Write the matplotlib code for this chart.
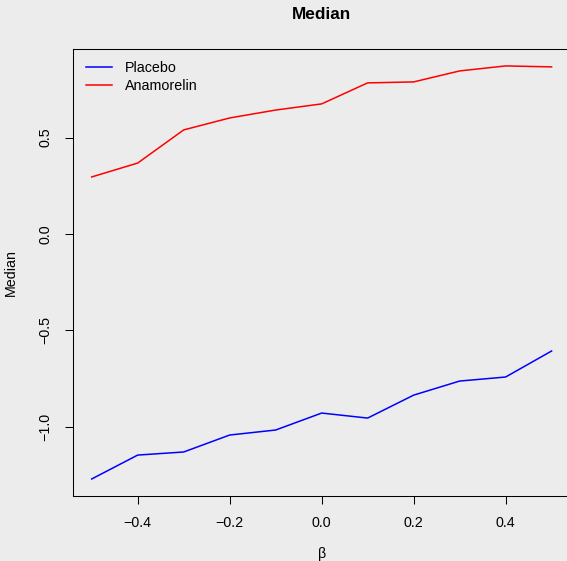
import numpy as np
import matplotlib
matplotlib.use('Agg')
from matplotlib import pyplot as plt

plt.rcParams['font.family'] = ['Liberation Sans', 'DejaVu Sans']

beta = [-0.5, -0.4, -0.3, -0.2, -0.1, 0.0, 0.1, 0.2, 0.3, 0.4, 0.5]
placebo = [-1.271, -1.147, -1.131, -1.043, -1.017, -0.929, -0.955, -0.836, -0.763, -0.742, -0.607]
anamorelin = [0.296, 0.368, 0.540, 0.602, 0.643, 0.675, 0.784, 0.789, 0.846, 0.872, 0.867]
xticks = [-0.4, -0.2, 0.0, 0.2, 0.4]
yticks = [-1.0, -0.5, 0.0, 0.5]

W, H = 567, 561
fs = 10.3
fig = plt.figure(figsize=(W / 100, H / 100), dpi=100)
fig.patch.set_facecolor('#ececec')

# axes box in pixels (left, top, right, bottom)
l, t, r, b = 73.3, 49.4, 570.0, 495.5
ax = fig.add_axes([l / W, 1 - b / H, (r - l) / W, (b - t) / H])
ax.set_facecolor('none')

ax.plot(beta, placebo, color='#0000ff', lw=1.1, label='Placebo')
ax.plot(beta, anamorelin, color='#ff0000', lw=1.1, label='Anamorelin')

# R style 4% padding
def pad(vals):
    lo, hi = min(vals), max(vals)
    d = (hi - lo) * 0.04
    return lo - d, hi + d

ax.set_xlim(pad(beta))
ax.set_ylim(pad(placebo + anamorelin))
ax.set_xticks(xticks)
ax.set_xticklabels(['\u22120.4', '\u22120.2', '0.0', '0.2', '0.4'])
ax.set_yticks(yticks)
ax.set_yticklabels(['\u22121.0', '\u22120.5', '0.0', '0.5'], rotation=90, va='center')
ax.tick_params(direction='out', length=5.5, width=0.75, labelsize=fs, pad=9.5, colors='black')
for s in ax.spines.values():
    s.set_linewidth(0.75)

ax.set_title('Median', fontsize=12.4, fontweight='bold', pad=22)
ax.set_xlabel('\u03b2', fontsize=fs, labelpad=12)
ax.set_ylabel('Median', fontsize=fs, labelpad=15)

ax.legend(loc='upper left', frameon=False, fontsize=fs, handlelength=1.8,
          handletextpad=0.9, labelspacing=0.25, borderaxespad=0, borderpad=0,
          bbox_to_anchor=(86 / W, 1 - 61 / H), bbox_transform=fig.transFigure)

fig.savefig('out.png', dpi=100, facecolor=fig.get_facecolor())
